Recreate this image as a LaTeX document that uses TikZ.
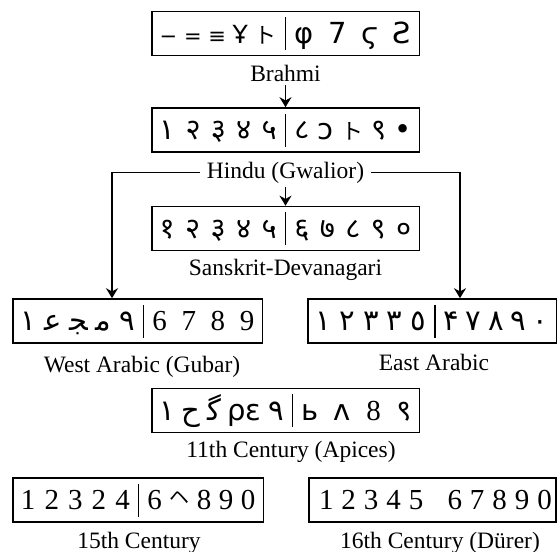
\documentclass[tikz,border=0pt]{standalone}
\usepackage{fontspec}
\setmainfont{Liberation Serif}
\newfontfamily\djfont{DejaVu Sans}
\newfontfamily\arfont[Script=Arabic]{DejaVu Sans}
\newfontfamily\dvfont[Script=Devanagari]{Noto Sans}
\newfontfamily\jpfont{Noto Sans CJK JP}
\usepackage{graphicx}
\usetikzlibrary{arrows.meta,positioning}

\newcommand{\numrow}[4]{%
  \raisebox{0pt}[0pt][0pt]{\makebox[#1pt][s]{\hspace{8pt}#3\hspace{8pt}}}%
  \rule[-7pt]{1.6pt}{33pt}%
  \raisebox{0pt}[0pt][0pt]{\makebox[#2pt][s]{\hspace{8pt}#4\hspace{8pt}}}}
\newcommand{\kto}{{\fontsize{22}{22}\jpfont ト}}

\begin{document}
\begin{tikzpicture}[x=1pt, y=-1pt,
    box/.style={draw, line width=1.6pt, inner sep=0pt, minimum height=44pt, font=\fontsize{29}{30}\selectfont},
    lbl/.style={anchor=base, inner xsep=7pt, inner ysep=4pt, font=\fontsize{23.5}{25}\selectfont},
    arr/.style={-{Stealth[length=10pt, width=12pt]}, line width=1.4pt}
]
\useasboundingbox (0,0) rectangle (558,552);

\node[box] (brahmi) at (285.5,33.5) {\numrow{133}{133}{{\fontsize{21}{22}\djfont −\hfill=\hfill≡\hfill{\fontsize{25}{25}\selectfont Ұ}}\hfill\kto}{\djfont φ\hfill 7\hfill ϛ\hfill Ƨ}};
\node[lbl] (brahmilbl) at (285.5,81) {Brahmi};

\node[box] (hindu) at (285.5,130) {\numrow{133}{133}{\arfont ١\hfill{\dvfont २\hfill ३\hfill ४\hfill ५}}{{\dvfont ८}\hfill{\djfont ɔ}\hfill\kto\hfill{\dvfont ९}\hfill{\djfont •}}};
\node[lbl] (hindulbl) at (285.5,178) {Hindu (Gwalior)};

\node[box] (sanskrit) at (285.5,228.5) {\numrow{133}{133}{\dvfont १\hfill २\hfill ३\hfill ४\hfill ५}{\dvfont ६\hfill ७\hfill ८\hfill ९\hfill ०}};
\node[lbl] (sanskritlbl) at (285.5,275) {Sanskrit-Devanagari};

\node[box] (westar) at (137.6,321) {\numrow{130}{118}{\arfont ١\hfill ﻋ\hfill ﺠ\hfill ﻣ\hfill ٩}{6\hfill 7\hfill 8\hfill 9}};
\node[lbl] (westarlbl) at (142,372) {West Arabic (Gubar)};

\node[box] (eastar) at (432.2,321) {\numrow{126}{121}{\arfont ١\hfill ٢\hfill ٣\hfill ٣\hfill ٥}{\arfont ۴\hfill ٧\hfill ٨\hfill ٩\hfill ٠}};
\node[lbl] (eastarlbl) at (434,370) {East Arabic};

\node[box] (apices) at (285.6,410.5) {\numrow{140}{126}{\arfont ١\hfill ﺡ\hfill ﮔ\hfill{\djfont ρε}\hfill ٩}{{\djfont ь\hfill ʌ}\hfill 8\hfill{\dvfont ९}}};
\node[lbl] (apiceslbl) at (291,457) {11th Century (Apices)};

\node[box] (xv) at (138.2,500) {\numrow{125}{124}{1\hfill 2\hfill 3\hfill 2\hfill 4}{6\hfill\raisebox{5pt}{\fontsize{20}{20}\jpfont ヘ}\hfill 8\hfill 9\hfill 0}};
\node[lbl] (xvlbl) at (139,548) {15th Century};

\node[box] (xvi) at (432.5,500) {\rule[-7pt]{0pt}{33pt}\raisebox{0pt}[0pt][0pt]{\makebox[247pt][s]{\hspace{10pt}1\hfill 2\hfill 3\hfill 4\hfill 5\hfill\hfill\hfill 6\hfill 7\hfill 8\hfill 9\hfill 0\hspace{4pt}}}};
\node[lbl] (xvilbl) at (440,548) {16th Century (Dürer)};

\coordinate (wturn) at (112,0);
\coordinate (eturn) at (460,0);

\draw[arr] (brahmilbl) -- (hindu);
\draw[arr] (hindulbl) -- (sanskrit);
\draw[arr] (hindulbl.west) -| (westar.north -| wturn);
\draw[arr] (hindulbl.east) -| (eastar.north -| eturn);
\end{tikzpicture}
\end{document}
